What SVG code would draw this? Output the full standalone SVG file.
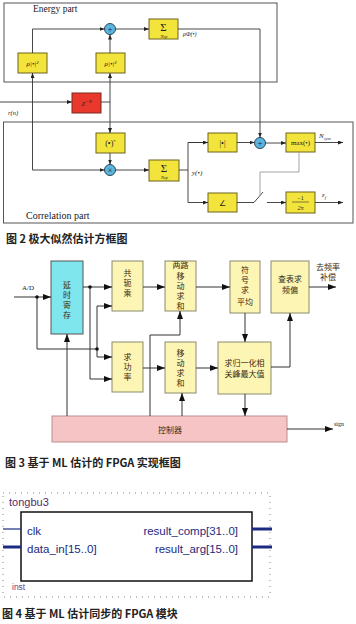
<svg xmlns="http://www.w3.org/2000/svg" width="356" height="624" viewBox="0 0 356 624">
<defs>
<marker id="ah" markerUnits="userSpaceOnUse" markerWidth="5" markerHeight="4" refX="5" refY="2" orient="auto"><path d="M0,0 L5,2 L0,4 z" fill="#222"/></marker>
<marker id="ab" markerUnits="userSpaceOnUse" markerWidth="8" markerHeight="6" refX="8" refY="3" orient="auto"><path d="M0,0 L8,3 L0,6 z" fill="#111"/></marker>
</defs>
<style>
.cap{font-family:"Noto Sans CJK SC",sans-serif;font-size:11px;font-weight:bold;fill:#222}
.lbl{font-family:"Liberation Serif",serif;fill:#222}
.it{font-family:"Liberation Serif",serif;font-style:italic;fill:#222}
.yb{fill:#f2e43a;stroke:#6d6420;stroke-width:1}
.circ{fill:#5ab6de;stroke:#2a4a5a;stroke-width:1}
.frame{fill:none;stroke:#555;stroke-width:1}
.c2{fill:none;stroke:#333;stroke-width:0.9}
.c3{fill:none;stroke:#333;stroke-width:1}
.pb{fill:#fcf5b4;stroke:#8a8a70;stroke-width:1}
.zh{font-family:"Noto Sans CJK SC",sans-serif;font-size:8px;fill:#3a2a10;text-anchor:middle}
.f4{font-family:"Liberation Sans",Arial,sans-serif;font-size:11.5px;fill:#1c2a80}
.mid{text-anchor:middle}
</style>
<rect width="356" height="624" fill="#fff"/>

<!-- ===== Figure 2 ===== -->
<g id="energy-part">
<rect class="frame" x="4" y="3" width="273" height="79"/>
<text class="lbl" x="33" y="12" font-size="9.5">Energy part</text>
</g>
<g id="correlation-part">
<rect class="frame" x="3.5" y="122" width="349.5" height="101"/>
<text class="lbl" x="26" y="219" font-size="10">Correlation part</text>
</g>
<g id="rho1"><rect class="yb" x="18" y="53" width="29" height="20"/><text class="it mid" x="32.5" y="66" font-size="7">ρ|•|²</text></g>
<g id="rho2"><rect class="yb" x="96" y="53" width="29" height="20"/><text class="it mid" x="110.5" y="66" font-size="7">ρ|•|²</text></g>
<g id="plus1"><circle class="circ" cx="110" cy="29" r="5.5"/><text class="lbl mid" x="110" y="32" font-size="9">+</text></g>
<g id="sum1"><rect class="yb" x="149" y="19" width="29" height="20"/><text class="lbl mid" x="163.5" y="31" font-size="11">Σ</text><text class="it mid" x="164" y="37.5" font-size="4.5">Ncp</text></g>
<g id="delay"><rect x="72" y="93" width="29" height="20" fill="#e8392c" stroke="#7a2a20"/><text class="it mid" x="86.5" y="106" font-size="7">Z<tspan font-size="5" dy="-3">−N</tspan></text></g>
<g id="conj"><rect class="yb" x="96" y="133" width="29" height="20"/><text class="lbl mid" x="110.5" y="146" font-size="8">(•)<tspan font-size="5" dy="-3">*</tspan></text></g>
<g id="mult"><circle class="circ" cx="110" cy="170" r="5.5"/><text class="lbl mid" x="110" y="173" font-size="8">×</text></g>
<g id="sum2"><rect class="yb" x="149" y="160" width="30" height="21"/><text class="lbl mid" x="164" y="172" font-size="11">Σ</text><text class="it mid" x="164.5" y="178.5" font-size="4.5">Ncp</text></g>
<g id="abs"><rect class="yb" x="208" y="133" width="29" height="19"/><text class="lbl mid" x="222.5" y="145.5" font-size="8">|•|</text></g>
<g id="angle"><rect class="yb" x="208" y="193" width="29" height="19"/><text class="lbl mid" x="222.5" y="205.5" font-size="8">∠</text></g>
<g id="plus2"><circle class="circ" cx="260" cy="143" r="5.5"/><text class="lbl mid" x="260" y="146" font-size="9">+</text></g>
<g id="max"><rect class="yb" x="286" y="133" width="29" height="19"/><text class="lbl mid" x="300.5" y="145" font-size="7">max(•)</text></g>
<g id="scale"><rect class="yb" x="286" y="192" width="29" height="21"/><text class="lbl mid" x="300.5" y="200" font-size="6">−1</text><line x1="292" y1="202" x2="309" y2="202" stroke="#333" stroke-width="0.6"/><text class="it mid" x="300.5" y="209.5" font-size="6">2π</text></g>
<g id="switch"><line x1="254" y1="202.5" x2="263" y2="192" stroke="#333" stroke-width="0.9"/></g>
<g id="fig2-labels">
<text class="it" x="8" y="115" font-size="6.5">r(n)</text>
<text class="it" x="183" y="36" font-size="6">ρΦ(•)</text>
<text class="it" x="192" y="175" font-size="7">y(•)</text>
<text class="it" x="319" y="138" font-size="7">N<tspan font-size="4.5" dy="1.5">sym</tspan></text>
<text class="it" x="322" y="197" font-size="7">ε<tspan font-size="4.5" dy="1.5">f</tspan></text>
</g>
<g id="fig2-connectors">
<path class="c2" d="M0,102 H72" marker-end="url(#ah)"/>
<path class="c2" d="M101,102 H110"/>
<path class="c2" d="M110,102 V73" marker-end="url(#ah)"/>
<path class="c2" d="M110,102 V133" marker-end="url(#ah)"/>
<path class="c2" d="M32.5,170 V73" marker-end="url(#ah)"/>
<path class="c2" d="M32.5,170 H104.5" marker-end="url(#ah)"/>
<path class="c2" d="M32.5,53 V29 H104.5" marker-end="url(#ah)"/>
<path class="c2" d="M110,53 V34.5" marker-end="url(#ah)"/>
<path class="c2" d="M115.5,29 H149" marker-end="url(#ah)"/>
<path class="c2" d="M178,29 H260 V137.5" marker-end="url(#ah)"/>
<path class="c2" d="M110,153 V164.5" marker-end="url(#ah)"/>
<path class="c2" d="M115.5,170 H149" marker-end="url(#ah)"/>
<path class="c2" d="M179,170 H188"/>
<path class="c2" d="M208,142.5 H188 V202.5 H208" marker-end="url(#ah)"/>
<path class="c2" d="M188,142.5 H208" marker-end="url(#ah)"/>
<path class="c2" d="M237,142.5 H254.5" marker-end="url(#ah)"/>
<path class="c2" d="M265.5,143 H286" marker-end="url(#ah)"/>
<path class="c2" d="M315,142.5 H343" marker-end="url(#ah)"/>
<path class="c2" d="M237,202.5 H254"/>
<path class="c2" d="M267,202.5 H286" marker-end="url(#ah)"/>
<path class="c2" d="M315,202.5 H343" marker-end="url(#ah)"/>
<path d="M299,152 V172 H260 V195" fill="none" stroke="#999" stroke-width="0.9"/>
</g>
<text class="cap" x="6" y="243">图 2 极大似然估计方框图</text>

<!-- ===== Figure 3 ===== -->
<g id="delay-reg"><rect x="51" y="261" width="32" height="73" fill="#7fe6ee" stroke="#555"/>
<text class="zh" x="67" y="288">延</text><text class="zh" x="67" y="298">时</text><text class="zh" x="67" y="308">寄</text><text class="zh" x="67" y="318">存</text></g>
<g id="conj-mult"><rect class="pb" x="112" y="261" width="31" height="50"/>
<text class="zh" x="127.5" y="276">共</text><text class="zh" x="127.5" y="286">轭</text><text class="zh" x="127.5" y="296">乘</text></g>
<g id="dual-sum"><rect class="pb" x="165" y="261" width="31" height="50"/>
<text class="zh" x="180.5" y="268">两路</text><text class="zh" x="180.5" y="279">移</text><text class="zh" x="180.5" y="289">动</text><text class="zh" x="180.5" y="299">求</text><text class="zh" x="180.5" y="309">和</text></g>
<g id="sign-avg"><rect class="pb" x="230" y="261" width="30" height="52"/>
<text class="zh" x="245" y="273">符</text><text class="zh" x="245" y="283">号</text><text class="zh" x="245" y="293">求</text><text class="zh" x="245" y="305">平均</text></g>
<g id="lut"><rect class="pb" x="271" y="261" width="38" height="52"/>
<text class="zh" x="290" y="282">查表求</text><text class="zh" x="290" y="293">频偏</text></g>
<g id="power"><rect class="pb" x="112" y="342" width="31" height="50"/>
<text class="zh" x="127.5" y="360">求</text><text class="zh" x="127.5" y="370">功</text><text class="zh" x="127.5" y="380">率</text></g>
<g id="move-sum"><rect class="pb" x="165" y="342" width="31" height="51"/>
<text class="zh" x="180.5" y="356">移</text><text class="zh" x="180.5" y="366">动</text><text class="zh" x="180.5" y="376">求</text><text class="zh" x="180.5" y="386">和</text></g>
<g id="norm-peak"><rect class="pb" x="218" y="342" width="53" height="52"/>
<text class="zh" x="244.5" y="366">求归一化相</text><text class="zh" x="244.5" y="377">关峰最大值</text></g>
<g id="controller"><rect x="52" y="416" width="235" height="26" fill="#f6c4c4" stroke="#b89090"/>
<text class="zh" x="170" y="433" font-size="9">控制器</text></g>
<g id="fig3-labels">
<text class="lbl" x="22" y="290" font-size="7">A/D</text>
<text class="zh" x="328" y="270" font-size="6.5">去频率</text>
<text class="zh" x="328" y="280" font-size="6.5">补偿</text>
<text class="lbl" x="334" y="426" font-size="6">sign</text>
</g>
<g id="fig3-connectors">
<path class="c3" d="M14,297 H51" marker-end="url(#ab)"/>
<path class="c3" d="M37,297 V349 H97"/>
<path class="c3" d="M83,287 H112" marker-end="url(#ab)"/>
<path class="c3" d="M90,287 V379 H112" marker-end="url(#ab)"/>
<path class="c3" d="M97,306 H112" marker-end="url(#ab)"/>
<path class="c3" d="M97,306 V357 H112" marker-end="url(#ab)"/>
<path class="c3" d="M143,287 H165" marker-end="url(#ab)"/>
<path class="c3" d="M196,287 H230" marker-end="url(#ab)"/>
<path class="c3" d="M309,287 H336" marker-end="url(#ab)"/>
<path class="c3" d="M245,313 V342" marker-end="url(#ab)"/>
<path class="c3" d="M143,368 H165" marker-end="url(#ab)"/>
<path class="c3" d="M196,368 H218" marker-end="url(#ab)"/>
<path class="c3" d="M271,367 H290 V313" marker-end="url(#ab)"/>
<path class="c3" d="M245,394 V416" marker-end="url(#ab)"/>
<path class="c3" d="M67,416 V334" marker-end="url(#ab)"/>
<path class="c3" d="M182,416 V393" marker-end="url(#ab)"/>
<path class="c3" d="M150,416 V335 H180 V311" marker-end="url(#ab)"/>
<path class="c3" d="M287,429 H333" marker-end="url(#ab)"/>
<circle cx="37" cy="297" r="1.8" fill="#111"/>
<circle cx="90" cy="287" r="1.8" fill="#111"/>
<circle cx="97" cy="349" r="1.8" fill="#111"/>
</g>
<text class="cap" x="5" y="467">图 3 基于 ML 估计的 FPGA 实现框图</text>

<!-- ===== Figure 4 ===== -->
<g id="tongbu3">
<rect x="3" y="493" width="267" height="104" fill="none" stroke="#888" stroke-width="1" stroke-dasharray="1 5"/>
<text x="9" y="506" font-family="Liberation Sans, Arial, sans-serif" font-size="11" fill="#5a2a6e">tongbu3</text>
<rect x="21" y="512" width="231" height="69" fill="#fff" stroke="#111" stroke-width="1.5"/>
<text class="f4" x="27" y="535">clk</text>
<text class="f4" x="27" y="553">data_in[15..0]</text>
<text class="f4" x="238" y="535" text-anchor="end">result_comp[31..0]</text>
<text class="f4" x="238" y="553" text-anchor="end">result_arg[15..0]</text>
<text x="12" y="590" font-family="Liberation Sans, Arial, sans-serif" font-size="8.5" fill="#7a3a7a">inst</text>
</g>
<g id="fig4-connectors">
<line x1="3" y1="529" x2="21" y2="529" stroke="#1c2a80" stroke-width="1.2"/>
<line x1="3" y1="547" x2="21" y2="547" stroke="#1c2a80" stroke-width="3"/>
<line x1="252" y1="529" x2="272" y2="529" stroke="#1c2a80" stroke-width="3"/>
<line x1="252" y1="547" x2="272" y2="547" stroke="#1c2a80" stroke-width="3"/>
</g>
<text class="cap" x="2" y="618">图 4 基于 ML 估计同步的 FPGA 模块</text>
</svg>
